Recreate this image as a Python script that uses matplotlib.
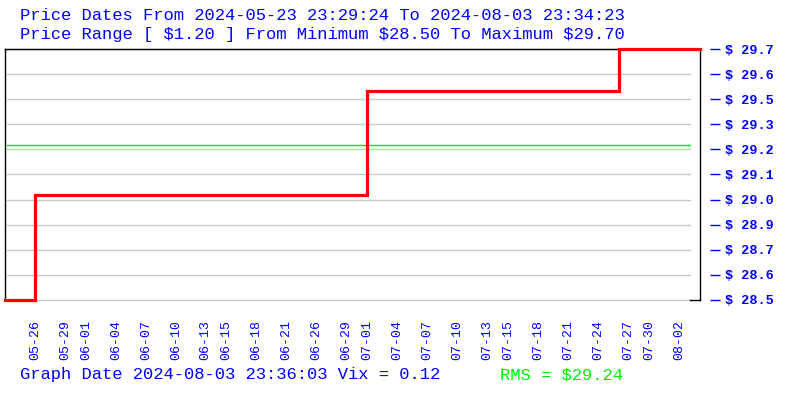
#!/usr/bin/env python3
"""Step chart of price history with RMS line, right-hand dollar axis."""

import matplotlib

matplotlib.use("Agg")
import matplotlib.pyplot as plt  # noqa: E402
import numpy as np  # noqa: E402

# price series as steps over sample index
N_SAMPLES = 232
step_start = [0, 10, 121, 205]
step_price = [28.50, 29.00, 29.50, 29.70]

date_from = "2024-05-23 23:29:24"
date_to = "2024-08-03 23:34:23"
graph_date = "2024-08-03 23:36:03"
vix = 0.12
rms_price = 29.24

tick_index = [10, 20, 27, 37, 47, 57, 67, 74, 84, 94, 104, 114, 121,
              131, 141, 151, 161, 168, 178, 188, 198, 208, 215, 225]
tick_dates = ["05-26", "05-29", "06-01", "06-04", "06-07", "06-10", "06-13",
              "06-15", "06-18", "06-21", "06-26", "06-29", "07-01", "07-04",
              "07-07", "07-10", "07-13", "07-15", "07-18", "07-21", "07-24",
              "07-27", "07-30", "08-02"]

BLUE = "#0000ff"
GREEN = "#00ee00"
FONT = "Liberation Mono"


def main() -> None:
    price = np.empty(N_SAMPLES + 1)
    bounds = step_start + [N_SAMPLES + 1]
    for i, value in enumerate(step_price):
        price[bounds[i]:bounds[i + 1]] = value
    x = np.arange(N_SAMPLES + 1)

    lo, hi = min(step_price), max(step_price)
    yticks = np.linspace(lo, hi, 11)

    fig = plt.figure(figsize=(8, 4), dpi=100)
    ax = fig.add_axes([5 / 800, 0.25, 695 / 800, 251 / 400])
    ax.set_xlim(0, N_SAMPLES)
    ax.set_ylim(lo, hi)

    gx0, gx1 = 2 / 695, 685 / 695
    for y in yticks:
        ax.axhline(y, gx0, gx1, color="#c8c8c8", lw=1.0, zorder=1, clip_on=False)
    ax.axhline(rms_price, gx0, gx1, color=GREEN, lw=1.0, zorder=2)

    ax.step(x, price, where="post", color="red", lw=2.3, zorder=5,
            clip_on=False, solid_joinstyle="miter")

    for side in ("top", "left"):
        ax.spines[side].set_color("black")
        ax.spines[side].set_linewidth(1.0)
    ax.spines["bottom"].set_visible(False)
    ax.spines["right"].set_visible(False)
    ax.spines["right"].set_position(("outward", 7.2))
    ax.plot([1, 1], [0, 1], transform=ax.transAxes, color="black", lw=1.0,
            clip_on=False, zorder=3)
    ax.plot([gx1, 1], [0, 0], transform=ax.transAxes, color="black", lw=1.0,
            clip_on=False, zorder=3)

    ax.yaxis.tick_right()
    ax.set_yticks(yticks)
    ax.set_yticklabels([f"$ {v:.1f}" for v in yticks], fontfamily=FONT,
                       fontweight="bold", fontsize=9.7, color=BLUE)
    ax.tick_params(axis="y", direction="out", length=7.2, width=1.0,
                   color=BLUE, pad=3.5)

    ax.set_xticks(tick_index)
    ax.set_xticklabels(tick_dates, rotation=90, fontfamily=FONT, fontsize=9.5,
                       color=BLUE)
    ax.tick_params(axis="x", length=0, pad=14.5)

    title_kw = dict(fontfamily=FONT, fontsize=12.3, color=BLUE, va="center")
    fig.text(20 / 800, 1 - 15 / 400, f"Price Dates From {date_from} To {date_to}",
             **title_kw)
    fig.text(20 / 800, 1 - 35 / 400,
             f"Price Range [ ${hi - lo:.2f} ] From Minimum ${lo:.2f} To Maximum ${hi:.2f}",
             **title_kw)
    fig.text(20 / 800, 1 - 375 / 400, f"Graph Date {graph_date} Vix = {vix:.2f}",
             **title_kw)
    fig.text(500 / 800, 1 - 375 / 400, f"RMS = ${rms_price:.2f}",
             fontfamily=FONT, fontsize=12.3, color=GREEN, va="center")

    fig.savefig("out.png", dpi=100)
    plt.close(fig)


if __name__ == "__main__":
    main()
